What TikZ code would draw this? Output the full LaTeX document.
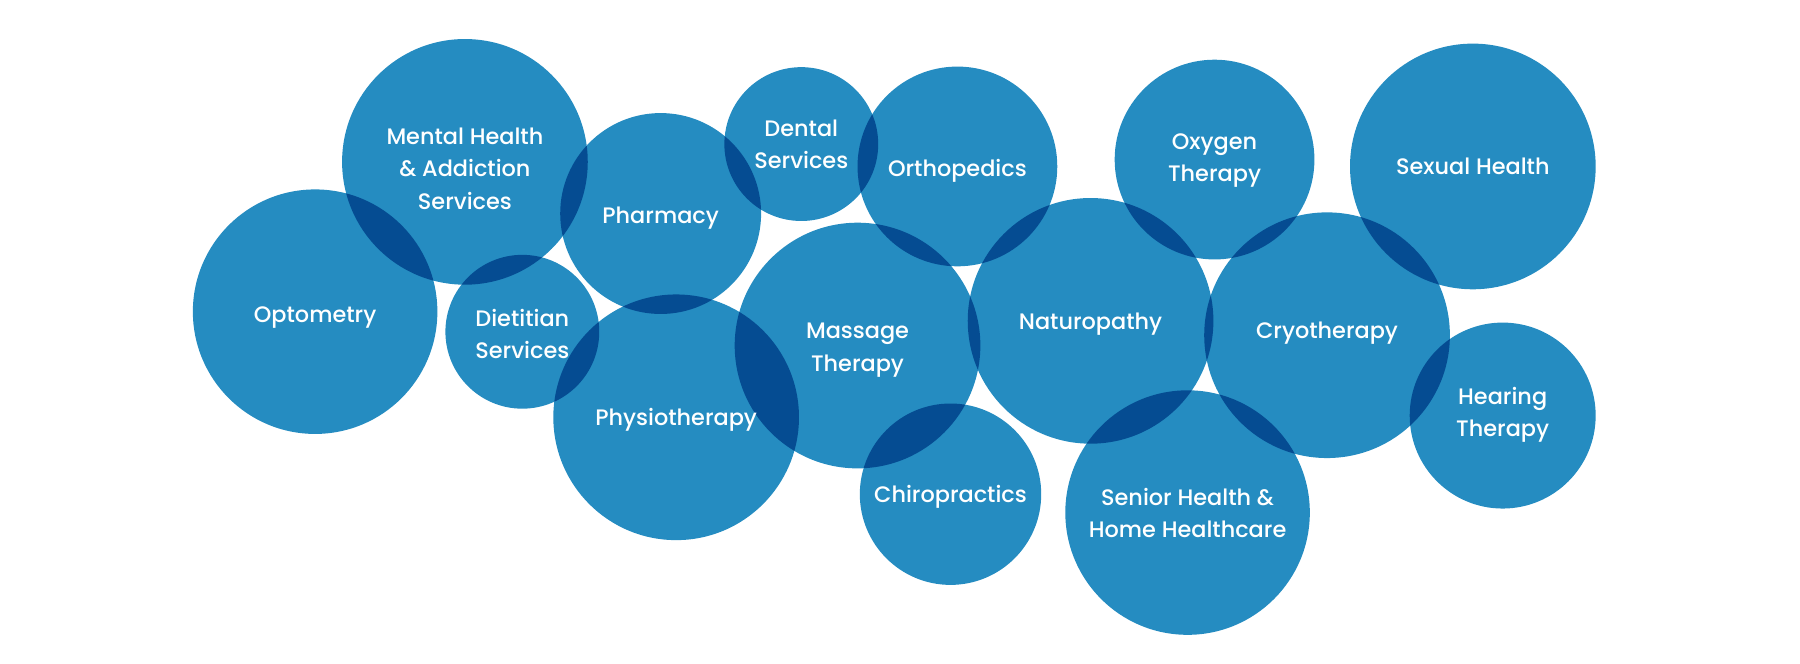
\documentclass[tikz,border=0pt]{standalone}
\usepackage{fontspec}
\setmainfont{Poppins}[UprightFont=* Medium]
\definecolor{bubble}{HTML}{258CC1}

\begin{document}
\begin{tikzpicture}[x=1pt, y=-1pt,
	every node/.style={font=\fontsize{19.5}{28}\selectfont},
	ball/.style={circle, fill=bubble, inner sep=0pt, minimum size=#1},
	tag/.style={text=white, align=center}]
	\useasboundingbox (0,0) rectangle (1568,578);
	\begin{scope}[blend group=multiply]
		\foreach \n/\x/\y/\d in {opt/274.5/271.5/213, mental/405/141/214, diet/455/289/134,
			pharm/575.5/186/175, dental/698/125.5/134, ortho/834/145/174,
			physio/589/363.5/214, massage/747/301/214, chiro/828/430.5/158,
			natur/950/279.5/214, oxy/1058/139/174, sexual/1283/145/214,
			cryo/1156/292/214, hear/1309/362/162, senior/1034.5/446.5/213}
			{\node[ball=\d] (\n) at (\x,\y) {};}
	\end{scope}
	\node[tag, yshift=-5pt] (optT) at (opt) {Optometry};
	\node[tag, yshift=-6pt] (mentalT) at (mental) {Mental Health\\\& Addiction\\Services};
	\node[tag, yshift=-2pt] (dietT) at (diet) {Dietitian\\Services};
	\node[tag, yshift=-4pt] (pharmT) at (pharm) {Pharmacy};
	\node[tag] (dentalT) at (dental) {Dental\\Services};
	\node[tag, yshift=-4pt] (orthoT) at (ortho) {Orthopedics};
	\node[tag, yshift=-2pt] (physioT) at (physio) {Physiotherapy};
	\node[tag, yshift=-4pt] (massageT) at (massage) {Massage\\Therapy};
	\node[tag, yshift=-2pt] (chiroT) at (chiro) {Chiropractics};
	\node[tag, yshift=-3pt] (naturT) at (natur) {Naturopathy};
	\node[tag, yshift=-1pt] (oxyT) at (oxy) {Oxygen\\Therapy};
	\node[tag] (sexualT) at (sexual) {Sexual Health};
	\node[tag, yshift=2pt] (cryoT) at (cryo) {Cryotherapy};
	\node[tag, yshift=1pt] (hearT) at (hear) {Hearing\\Therapy};
	\node[tag] (seniorT) at (senior) {Senior Health \&\\Home Healthcare};
\end{tikzpicture}
\end{document}
